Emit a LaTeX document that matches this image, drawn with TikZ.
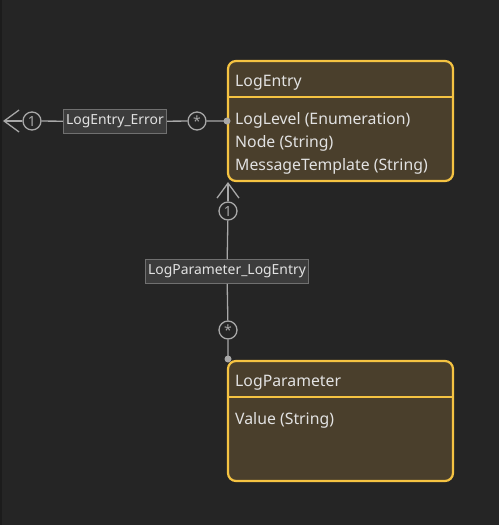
\documentclass[tikz,border=0pt]{standalone}
\usepackage{fontspec}
\setmainfont{Noto Sans}
\usetikzlibrary{arrows.meta,positioning,calc}
\definecolor{canvas}{HTML}{252525}
\definecolor{edge}{HTML}{1C1C1C}
\definecolor{entfill}{HTML}{4A3F2C}
\definecolor{entline}{HTML}{F5C342}
\definecolor{wire}{HTML}{A8A8A8}
\definecolor{tagfill}{HTML}{3C3C3C}
\definecolor{tagline}{HTML}{707070}
\definecolor{ink}{HTML}{E2E2E2}
\tikzset{
  entity/.style={draw=entline, fill=entfill, line width=2.2pt, rounded corners=8pt,
              minimum width=225pt, minimum height=120pt, inner sep=0pt},
  field/.style={anchor=west, text=ink, inner sep=0pt, font=\fontsize{15.8}{18}\selectfont},
  tag/.style={draw=tagline, fill=tagfill, text=ink, line width=0.8pt, inner sep=3pt,
              minimum height=24pt, font=\fontsize{13.9}{16}\selectfont},
  mult/.style={circle, draw=wire, line width=1.3pt, fill=canvas, text=wire, minimum size=18pt,
              inner sep=0pt, font=\fontsize{14}{15}\selectfont},
  wireline/.style={draw=wire, line width=1.3pt},
  tipend/.style={-{Straight Barb[length=15pt,width=22pt,line width=1.3pt]}},
}
\begin{document}
\begin{tikzpicture}[x=1pt,y=-1pt]
    \fill[canvas] (0,0) rectangle (499,525);
    \fill[edge] (0,0) rectangle (2,525);
    \useasboundingbox (0,0) rectangle (499,525);
    % entities
    \node[entity] (entry) at (340.5,121) {};
    \draw[entline, line width=2.2pt] ($(entry.north west)+(0,37)$) -- ($(entry.north east)+(0,37)$);
    \node[field] (entryname) at (235,83) {LogEntry};
    \node[field] (lvl) at (235,120) {LogLevel (Enumeration)};
    \node[field] (nd) at (235,143) {Node (String)};
    \node[field] (tpl) at (235,166) {MessageTemplate (String)};
    \node[entity] (param) at (340.5,421) {};
    \draw[entline, line width=2.2pt] ($(param.north west)+(0,37)$) -- ($(param.north east)+(0,37)$);
    \node[field] (paramname) at (235,383) {LogParameter};
    \node[field] (val) at (235,420) {Value (String)};
    % LogEntry_Error
    \coordinate (errend) at (3,121);
    \coordinate (errstart) at (227,121);
    \node[mult] (erra) at (32,121) {1};
    \node[tag] (errtag) at (115,121.5) {LogEntry\_Error};
    \node[mult] (errb) at (197,121) {*};
    \draw[wireline] (errstart) -- (errb) -- (errtag) -- (erra);
    \draw[wireline, tipend] (erra) -- (errend);
    \fill[wire] (errstart) circle (3.5pt);
    % LogParameter_LogEntry
    \coordinate (parend) at (228,182);
    \coordinate (parstart) at (228,359);
    \node[mult] (para) at (228,211) {1};
    \node[tag] (partag) at (227,271.5) {LogParameter\_LogEntry};
    \node[mult] (parb) at (228,330) {*};
    \draw[wireline] (parstart) -- (parb) -- (partag) -- (para);
    \draw[wireline, tipend] (para) -- (parend);
    \fill[wire] (parstart) circle (3.5pt);
\end{tikzpicture}
\end{document}
